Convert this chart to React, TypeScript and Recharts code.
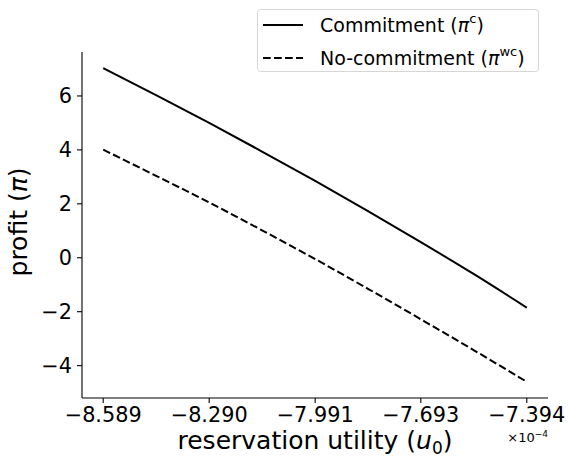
import React from "react";
import { LineChart, Line, XAxis, YAxis, Legend } from "recharts";

// reservation utility, in units of 1e-4
const utility = [-8.589, -8.44, -8.29, -8.141, -7.991, -7.842, -7.693, -7.543, -7.394];
const commitment = [7.03, 6.03, 5.0, 3.94, 2.85, 1.73, 0.58, -0.61, -1.85];
const noCommitment = [4.01, 3.04, 2.05, 1.02, -0.05, -1.15, -2.28, -3.43, -4.6];

const xTicks = [-8.589, -8.29, -7.991, -7.693, -7.394];
const yTicks = [-4, -2, 0, 2, 4, 6];

const data = utility.map((u, i) => ({
  u,
  commitment: commitment[i],
  noCommitment: noCommitment[i],
}));

const FONT = "DejaVu Sans";
const minus = (s: string) => s.replace("-", "\u2212");

const LegendBox = () => (
  <svg width={283} height={63} style={{ display: "block" }}>
    <rect x={0.5} y={0.5} width={281} height={62} rx={3} fill="#fff" stroke="#d6d6d6" />
    <line x1={6} x2={46} y1={16} y2={16} stroke="#000" strokeWidth={2} />
    <line x1={6} x2={46} y1={49} y2={49} stroke="#000" strokeWidth={2} strokeDasharray="7.7 3.3" />
    <text x={63} y={16} dominantBaseline="central" fontFamily={FONT} fontSize={19} fill="#000">
      Commitment (<tspan fontStyle="italic">π</tspan>
      <tspan fontSize={13} dy={-7}>c</tspan>
      <tspan dy={7}>)</tspan>
    </text>
    <text x={63} y={49} dominantBaseline="central" fontFamily={FONT} fontSize={19} fill="#000">
      No-commitment (<tspan fontStyle="italic">π</tspan>
      <tspan fontSize={13} dy={-7}>wc</tspan>
      <tspan dy={7}>)</tspan>
    </text>
  </svg>
);

const XLabel = () => (
  <g>
    <text x={315} y={449} textAnchor="middle" fontFamily={FONT} fontSize={25} fill="#000">
      reservation utility (<tspan fontStyle="italic">u</tspan>
      <tspan fontSize={17} dy={5}>0</tspan>
      <tspan dy={-5}>)</tspan>
    </text>
    <text x={548} y={442} textAnchor="end" fontFamily={FONT} fontSize={13} fill="#000">
      ×10<tspan fontSize={9} dy={-5}>−4</tspan>
    </text>
  </g>
);

const YLabel = () => (
  <text
    x={27}
    y={222}
    transform="rotate(-90 27 222)"
    textAnchor="middle"
    fontFamily={FONT}
    fontSize={25}
    fill="#000"
  >
    profit (<tspan fontStyle="italic">π</tspan>)
  </text>
);

export default function App() {
  return (
    <div style={{ position: "absolute", left: 0, top: 0 }}>
      <LineChart
        width={569}
        height={460}
        data={data}
        margin={{ top: 52, right: 21, bottom: 0, left: 0 }}
        style={{ fontFamily: FONT }}
      >
        <XAxis
          dataKey="u"
          type="number"
          domain={[-8.6488, -7.3342]}
          ticks={xTicks}
          tickFormatter={(v: number) => minus(v.toFixed(3))}
          height={62}
          axisLine={{ stroke: "#000", strokeWidth: 1.1 }}
          tickLine={{ stroke: "#000", strokeWidth: 1.1 }}
          tickSize={5}
          tickMargin={4}
          tick={{ fill: "#000", fontSize: 20.8, fontFamily: FONT }}
          label={<XLabel />}
          allowDataOverflow
        />
        <YAxis
          type="number"
          domain={[-5.2, 7.63]}
          ticks={yTicks}
          tickFormatter={(v: number) => minus(String(v))}
          width={82}
          axisLine={{ stroke: "#000", strokeWidth: 1.1 }}
          tickLine={{ stroke: "#000", strokeWidth: 1.1 }}
          tickSize={5}
          tickMargin={5}
          tick={{ fill: "#000", fontSize: 20.8, fontFamily: FONT }}
          label={<YLabel />}
          allowDataOverflow
        />
        <Legend
          layout="vertical"
          align="center"
          verticalAlign="middle"
          wrapperStyle={{ left: 257, top: 9, width: 283, height: 63 }}
          content={() => <LegendBox />}
        />
        <Line
          type="monotone"
          dataKey="commitment"
          stroke="#000"
          strokeWidth={2}
          dot={false}
          isAnimationActive={false}
        />
        <Line
          type="monotone"
          dataKey="noCommitment"
          stroke="#000"
          strokeWidth={2}
          strokeDasharray="7.7 3.3"
          dot={false}
          isAnimationActive={false}
        />
      </LineChart>
    </div>
  );
}
